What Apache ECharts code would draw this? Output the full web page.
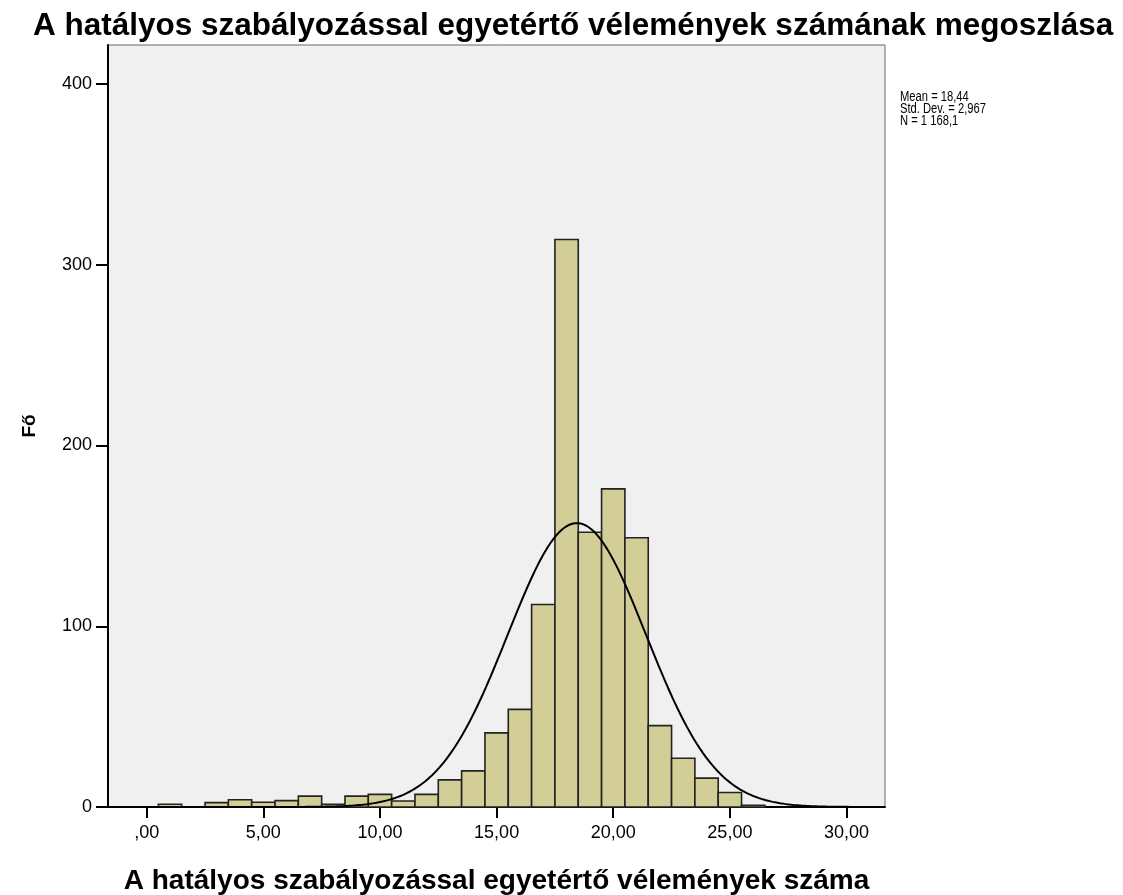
<!DOCTYPE html>
<html>
<head>
<meta charset="utf-8">
<script src="https://cdn.jsdelivr.net/npm/echarts@6/dist/echarts.min.js"></script>
<style>
html,body{margin:0;padding:0;background:#fff;}
#chart{width:1123px;height:895px;}
</style>
</head>
<body>
<div id="chart"></div>
<script>
// Bin centres (bin width 1)
const binCenters = [1, 2, 3, 4, 5, 6, 7, 8, 9, 10, 11, 12, 13, 14, 15, 16, 17, 18, 19, 20, 21, 22, 23, 24, 25, 26];
// Weighted counts
const binCounts = [1.5, 0, 2.4, 4, 2.6, 3.5, 6, 1.5, 6, 7, 3.3, 7, 15, 20, 41, 54, 112, 314, 152, 176, 149, 45, 27, 16, 8, 1];
const xTicks = [0, 5, 10, 15, 20, 25, 30];
const yTicks = [0, 100, 200, 300, 400];
const statMean = 18.44;
const statSD = 2.967;
const statN = 1168.1;
const statLines = ['Mean = 18,44', 'Std. Dev. = 2,967', 'N = 1 168,1'];
const titleText = 'A hatályos szabályozással egyetértő vélemények számának megoszlása';
const xName = 'A hatályos szabályozással egyetértő vélemények száma';
const yName = 'Fő';

const xMin = -1.66, xMax = 31.65, yMax = 421.6;

// Normal curve implied by the shown Mean, Std. Dev. and N (bin width 1)
const curve = [];
for (let i = 0; i <= 333; i++) {
  const x = xMin + i * (xMax - xMin) / 333;
  const z = (x - statMean) / statSD;
  curve.push([x, statN / (statSD * Math.sqrt(2 * Math.PI)) * Math.exp(-0.5 * z * z)]);
}

const barData = binCenters.map((c, i) => [c, binCounts[i]]);

const chart = echarts.init(document.getElementById('chart'), null, {renderer: 'canvas'});
const fmt = v => {
  const s = Number(v).toFixed(2).replace('.', ',');
  return s.startsWith('0,') ? s.slice(1) : s;
};
chart.setOption({
  animation: false,
  backgroundColor: '#ffffff',
  title: {
    text: titleText,
    left: 28,
    top: 5,
    textStyle: {fontFamily: 'Liberation Sans, Arial, sans-serif', fontSize: 31.5, fontWeight: 'bold', color: '#000'}
  },
  grid: {
    left: 108, right: 238, top: 45, bottom: 88,
    outerBoundsMode: 'none',
    containLabel: false,
    show: true, backgroundColor: '#f0f0f0', borderColor: '#666', borderWidth: 1
  },
  xAxis: {
    type: 'value', min: xMin, max: xMax,
    name: xName, nameLocation: 'middle', nameGap: 60,
    nameTextStyle: {fontFamily: 'Liberation Sans, Arial, sans-serif', fontSize: 28, fontWeight: 'bold', color: '#000'},
    splitLine: {show: false},
    axisLine: {onZero: false, lineStyle: {color: '#000', width: 2}},
    axisTick: {show: true, length: 11, customValues: xTicks, lineStyle: {color: '#000', width: 2}},
    axisLabel: {customValues: xTicks, formatter: fmt, margin: 17, fontFamily: 'Liberation Sans, Arial, sans-serif', fontSize: 18, color: '#000'}
  },
  yAxis: {
    type: 'value', min: 0, max: yMax,
    name: yName, nameLocation: 'middle', nameGap: 69, nameRotate: 90,
    nameTextStyle: {fontFamily: 'Liberation Sans, Arial, sans-serif', fontSize: 19, fontWeight: 'bold', color: '#000'},
    splitLine: {show: false},
    axisLine: {show: true, onZero: false, lineStyle: {color: '#000', width: 2}},
    axisTick: {show: true, length: 12, customValues: yTicks, lineStyle: {color: '#000', width: 2}},
    axisLabel: {customValues: yTicks, margin: 16, fontFamily: 'Liberation Sans, Arial, sans-serif', fontSize: 18, color: '#000'}
  },
  graphic: [{
    type: 'text', x: 900, y: 91, scaleX: 0.8,
    style: {text: statLines.join('\n'), fontFamily: 'Liberation Sans, Arial, sans-serif', fontSize: 14, lineHeight: 12, fill: '#000'}
  }],
  series: [{
    type: 'custom',
    data: barData,
    encode: {x: 0, y: 1},
    renderItem: function (params, api) {
      const c = api.value(0), v = api.value(1);
      const p0 = api.coord([c - 0.5, v]);
      const p1 = api.coord([c + 0.5, 0]);
      return {
        type: 'rect',
        shape: {x: p0[0], y: p0[1], width: p1[0] - p0[0], height: p1[1] - p0[1]},
        style: {fill: '#d3ce97', stroke: '#222', lineWidth: 1.6}
      };
    },
    z: 2
  }, {
    type: 'line',
    data: curve,
    showSymbol: false,
    symbol: 'none',
    lineStyle: {color: '#000', width: 2},
    z: 3
  }]
});
</script>
</body>
</html>
